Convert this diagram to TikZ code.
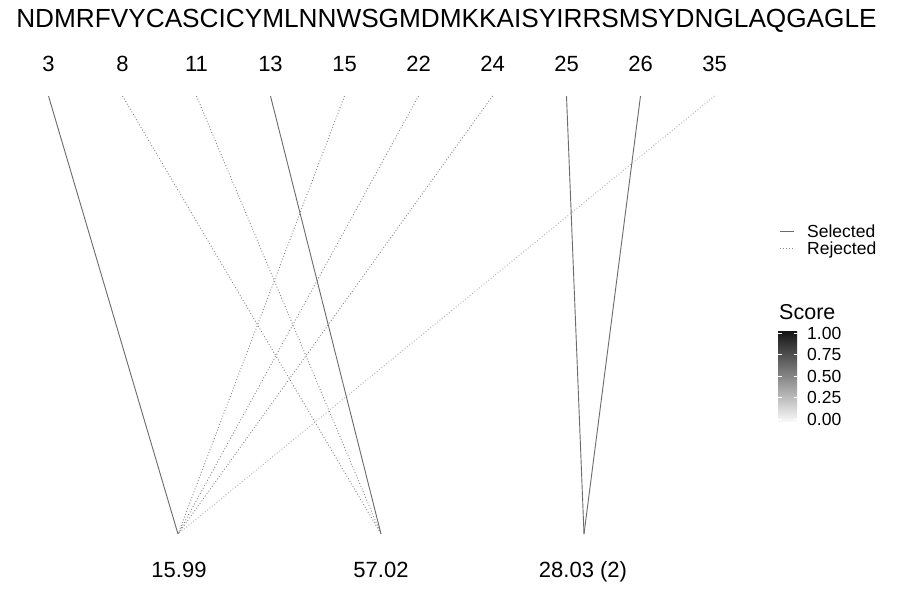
\documentclass[tikz,border=0pt]{standalone}
\usepackage{fontspec}
\setmainfont{Liberation Sans}
\begin{document}
\begin{tikzpicture}[x=1pt,y=-1pt,
  seqtxt/.style={font=\fontsize{26.2}{30}\selectfont, inner sep=0pt},
  postxt/.style={font=\fontsize{22}{25}\selectfont, inner sep=0pt},
  masstxt/.style={font=\fontsize{22}{25}\selectfont, inner sep=0pt, anchor=base},
  legtxt/.style={font=\fontsize{17.5}{20}\selectfont, inner sep=0pt, anchor=west},
  sel/.style={draw=black!58, line width=0.9pt},
  rej/.style={draw=black!48, line width=0.9pt, dash pattern=on 0.9pt off 2.1pt},
  rejlight/.style={draw=black!30, line width=0.9pt, dash pattern=on 0.9pt off 2.1pt},
  tickw/.style={draw=white, line width=0.6pt}
]
\useasboundingbox (0,0) rectangle (900,600);
\fill[white] (0,0) rectangle (900,600);

% sequence
\node[seqtxt] (seq) at (446.5,21) {NDMRFVYCASCICYMLNNWSGMDMKKAISYIRRSMSYDNGLAQGAGLE};

% position labels and line tops
\foreach \n/\x in {3/48.5,8/122.5,11/196.5,13/270.5,15/344.5,22/418.5,24/492.5,25/566.5,26/640.5,35/714.5}{
  \node[postxt] (p\n) at (\x,64) {\n};
  \coordinate (t\n) at (\x,96);
}

% mass ends
\coordinate (m1) at (178,534);
\coordinate (m2) at (381,534);
\coordinate (m3) at (584,534);
\node[masstxt] (l1) at (179,577.5) {15.99};
\node[masstxt] (l2) at (381,577.5) {57.02};
\node[masstxt] (l3) at (583,577.5) {28.03 (2)};

% connectors
\draw[rejlight] (t35) -- (m1);
\draw[rej] (t15) -- (m1);
\draw[rej] (t22) -- (m1);
\draw[rej] (t24) -- (m1);
\draw[rej] (t8) -- (m2);
\draw[rej] (t11) -- (m2);
\draw[sel] (t3) -- (m1);
\draw[sel] (t13) -- (m2);
\draw[sel] (t25) -- (m3);
\draw[sel] (t26) -- (m3);

% legend: line type
\coordinate (ls1) at (780,231.5);
\coordinate (ls2) at (794,231.5);
\coordinate (lr1) at (780,248.5);
\coordinate (lr2) at (794,248.5);
\draw[sel, line width=1.4pt] (ls1) -- (ls2);
\draw[rej] (lr1) -- (lr2);
\node[legtxt] (lsel) at (807,231) {Selected};
\node[legtxt] (lrej) at (807,249.5) {Rejected};

% legend: score colour bar
\node[font=\fontsize{21.5}{24}\selectfont, inner sep=0pt, anchor=west] (score) at (779,312) {Score};
\shade[top color=black!92, bottom color=black!3] (778,331) rectangle (797,421);
\foreach \v/\y in {1.00/333,0.75/354.5,0.50/376,0.25/397.5,0.00/419}{
  \draw[tickw] (778,\y) -- (781.5,\y);
  \draw[tickw] (793.5,\y) -- (797,\y);
  \node[legtxt] at (807,\y) {\v};
}
\end{tikzpicture}
\end{document}
